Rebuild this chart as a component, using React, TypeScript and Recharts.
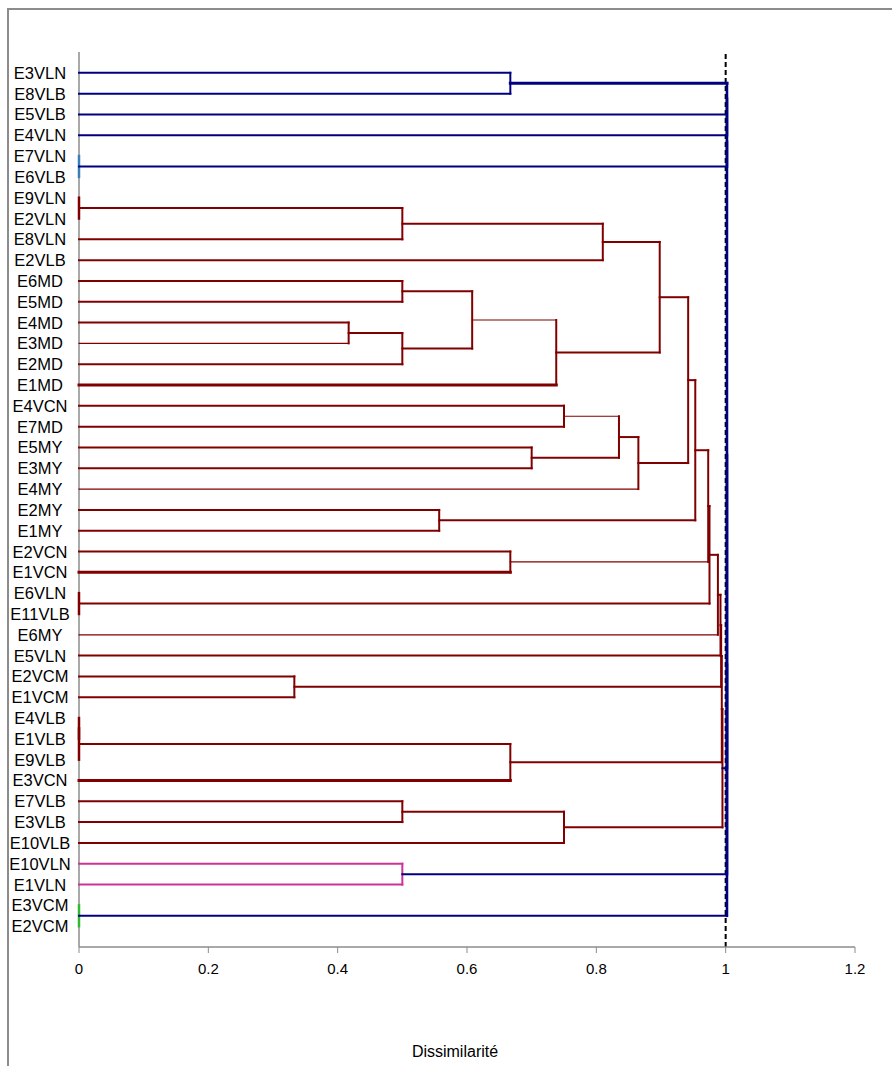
import { ComposedChart, Scatter, XAxis, YAxis, ReferenceLine } from 'recharts';

// Leaves, top to bottom (E2VCM really appears twice in the source)
const leaves = [
  'E3VLN', 'E8VLB', 'E5VLB', 'E4VLN', 'E7VLN', 'E6VLB', 'E9VLN', 'E2VLN', 'E8VLN', 'E2VLB',
  'E6MD', 'E5MD', 'E4MD', 'E3MD', 'E2MD', 'E1MD', 'E4VCN', 'E7MD', 'E5MY', 'E3MY',
  'E4MY', 'E2MY', 'E1MY', 'E2VCN', 'E1VCN', 'E6VLN', 'E11VLB', 'E6MY', 'E5VLN', 'E2VCM',
  'E1VCM', 'E4VLB', 'E1VLB', 'E9VLB', 'E3VCN', 'E7VLB', 'E3VLB', 'E10VLB', 'E10VLN', 'E1VLN',
  'E3VCM', 'E2VCM',
];

// Agglomeration steps: a number is a leaf index, '#k' is the cluster made at step k
const mergeLeft: (number | string)[] = [
  4, 6, 25, 31, '#3', 40, 0, '#1', '#7', 10,
  12, '#10', '#9', '#12', '#8', 16, 18, '#15', '#17', '#14',
  21, '#19', 23, '#21', '#23', '#24', '#25', 29, '#26', '#4',
  '#28', 35, '#31', '#30', 38, '#6', '#35', '#36', '#37', '#38',
  '#39',
];
const mergeRight: (number | string)[] = [
  5, 7, 26, 32, 33, 41, 1, 8, 9, 11,
  13, 14, '#11', 15, '#13', 17, 19, '#16', 20, '#18',
  22, '#20', 24, '#22', '#2', 27, 28, 30, '#27', 34,
  '#29', 36, 37, '#32', 39, 2, 3, '#0', '#33', '#34',
  '#5',
];
const mergeHeight = [
  0, 0, 0, 0, 0, 0, 0.667, 0.5, 0.81, 0.5,
  0.417, 0.5, 0.608, 0.738, 0.898, 0.75, 0.7, 0.835, 0.865, 0.942,
  0.557, 0.953, 0.667, 0.973, 0.975, 0.988, 0.992, 0.333, 0.993, 0.667,
  0.994, 0.5, 0.75, 0.995, 0.5, 1.002, 1.002, 1.002, 1.002, 1.002,
  1.002,
];

const xTicks = [0, 0.2, 0.4, 0.6, 0.8, 1, 1.2];
const cutLevel = 1;

const NAVY = '#000080';
const MAROON = '#800000';
const PINK = '#cc3399';
const TEAL = '#3a80b8';
const GREEN = '#33b833';
const GREY = '#8c8c8c';
const FONT = "'Liberation Sans', Arial, sans-serif";

const colorOf = (k: number) => {
  if (k === 0) return TEAL;
  if (k === 5) return GREEN;
  if (k === 34) return PINK;
  if (k === 6 || k >= 35) return NAVY;
  return MAROON;
};

const thinArms = [13, 20, 27, '#12', '#15', '#22'];
const thickArms = [15, 24, 34, '#6'];
const armWidth = (c: number | string) => (thinArms.includes(c) ? 1.2 : thickArms.includes(c) ? 3 : 2);

type Pt = { x: number; y: number };
type Seg = { key: string; pts: Pt[]; color: string; width: number };

const nodes: Record<string, { y: number; h: number }> = {};
leaves.forEach((_, i) => {
  nodes[String(i)] = { y: i + 1, h: 0 };
});

const segs: Seg[] = [];
mergeLeft.forEach((a, k) => {
  const b = mergeRight[k];
  const h = mergeHeight[k];
  const na = nodes[String(a)];
  const nb = nodes[String(b)];
  const color = colorOf(k);
  [a, b].forEach((c) => {
    const n = nodes[String(c)];
    if (h > n.h) {
      segs.push({ key: `${k}-${c}`, pts: [{ x: n.h, y: n.y }, { x: h, y: n.y }], color, width: armWidth(c) });
    }
  });
  segs.push({
    key: `${k}-v`,
    pts: [{ x: h, y: na.y }, { x: h, y: nb.y }],
    color,
    width: h === 0 ? 2.5 : k >= 35 ? 2.6 : 2,
  });
  nodes['#' + k] = { y: (na.y + nb.y) / 2, h };
});

const Empty = () => <g />;

const LeafTick = (props: any) => {
  const { x, y, payload } = props;
  return (
    <text x={x} y={y} dx={-39} dy={6} textAnchor="middle" fontSize={16.5} fill="#000" fontFamily={FONT}>
      {leaves[payload.value - 1]}
    </text>
  );
};

export default function App() {
  return (
    <div style={{ position: 'absolute', left: 0, top: 0, width: 892, height: 1066, overflow: 'hidden', background: '#fff' }}>
      <div style={{
        position: 'absolute', left: 7, top: 8, width: 900, height: 1100,
        borderLeft: `2px solid ${GREY}`, borderTop: `2px solid ${GREY}`,
      }} />
      <div style={{ position: 'absolute', left: 0, top: 0 }}>
        <ComposedChart width={892} height={1066} margin={{ top: 52, right: 37, bottom: 7, left: 8 }}>
          <XAxis
            type="number"
            dataKey="x"
            domain={[0, 1.2]}
            ticks={xTicks}
            axisLine={{ stroke: GREY, strokeWidth: 1.5 }}
            tickLine={{ stroke: GREY }}
            tickSize={6}
            tickMargin={10}
            height={112}
            tick={{ fill: '#000', fontSize: 15, fontFamily: FONT }}
            label={{
              value: 'Dissimilarité',
              position: 'insideBottom',
              offset: 2,
              dx: -12,
              fill: '#000',
              fontSize: 16,
              fontFamily: FONT,
            }}
          />
          <XAxis
            xAxisId="top"
            orientation="top"
            type="number"
            domain={[0, 1.2]}
            height={0}
            tick={false}
            tickLine={false}
            axisLine={{ stroke: GREY, strokeWidth: 1.5 }}
          />
          <YAxis
            type="number"
            dataKey="y"
            domain={[0, leaves.length + 1]}
            reversed
            ticks={leaves.map((_, i) => i + 1)}
            interval={0}
            width={71}
            axisLine={{ stroke: GREY, strokeWidth: 1.5 }}
            tickLine={false}
            tickSize={0}
            tickMargin={0}
            tick={<LeafTick />}
          />
          <YAxis
            yAxisId="right"
            orientation="right"
            type="number"
            width={0}
            tick={false}
            tickLine={false}
            axisLine={{ stroke: GREY, strokeWidth: 1.5 }}
          />
          {segs.map((s) => (
            <Scatter
              key={s.key}
              data={s.pts}
              line={{ stroke: s.color, strokeWidth: s.width, strokeLinecap: 'square' }}
              lineType="joint"
              shape={<Empty />}
              isAnimationActive={false}
              legendType="none"
            />
          ))}
          <ReferenceLine x={cutLevel} stroke="#000" strokeWidth={2} strokeDasharray="5 3" ifOverflow="visible" />
        </ComposedChart>
      </div>
    </div>
  );
}
